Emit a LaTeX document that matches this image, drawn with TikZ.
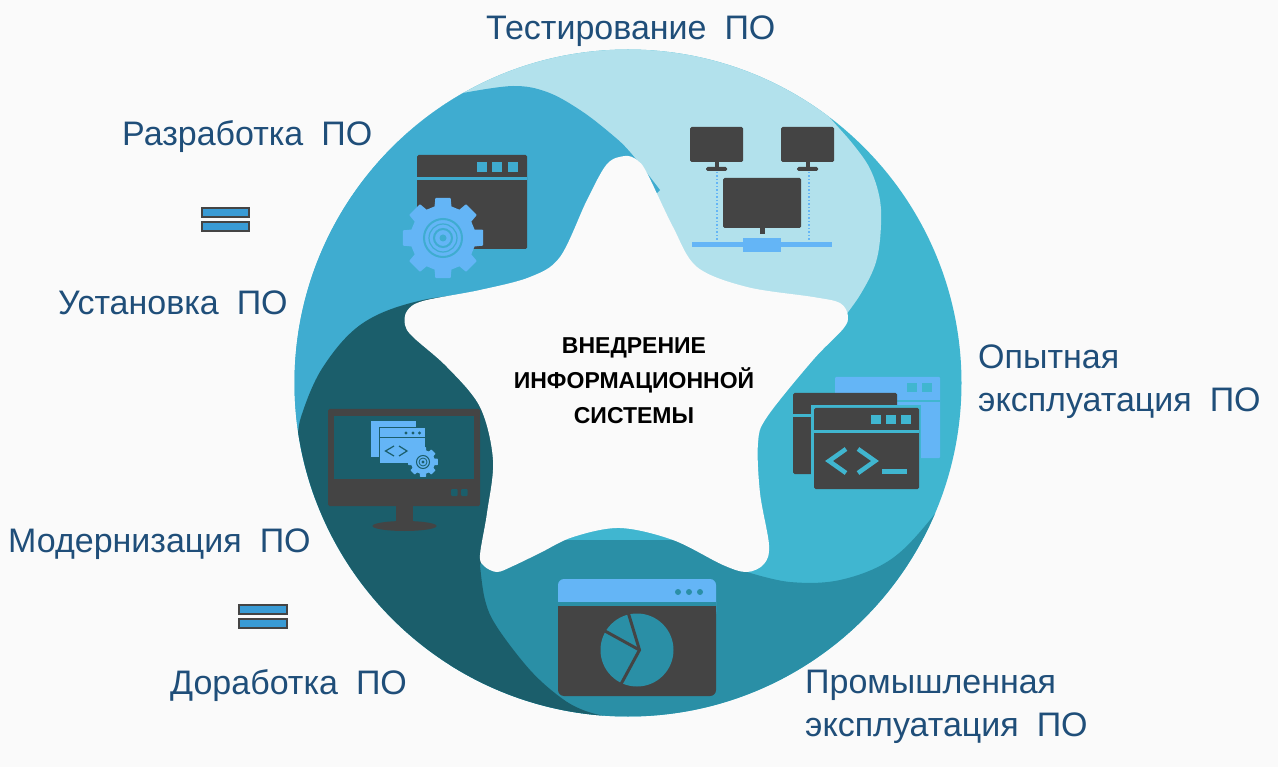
\documentclass[tikz,border=0pt]{standalone}
\usepackage{fontspec}
\setmainfont{Liberation Sans}
\definecolor{bgc}{HTML}{FAFAFA}
\definecolor{cLight}{HTML}{B2E1EC}
\definecolor{cBlue}{HTML}{3FACD0}
\definecolor{cCyan}{HTML}{40B6D0}
\definecolor{cTeal}{HTML}{2A8FA6}
\definecolor{cDark}{HTML}{1B5E6B}
\definecolor{cIcon}{HTML}{444444}
\definecolor{cSky}{HTML}{64B5F6}
\definecolor{cText}{HTML}{1F4E79}
\newcommand{\gearicon}[6]{% cx cy Rout Rin toothcolor linew
  \begin{scope}[shift={(#1,#2)}]
    \fill[#5,draw=#5,line width=#6,line join=round]
      (-11:#3)
      \foreach \ga in {0,45,...,315}{
        -- (\ga-10:#3) -- (\ga+10:#3) -- (\ga+14:#4) -- (\ga+31:#4)
      } -- cycle;
  \end{scope}}
\tikzset{
  lab/.style={anchor=base west,text=cText,font=\fontsize{34}{40}\selectfont,inner sep=0pt},
  mid/.style={anchor=base,text=black,font=\fontsize{23}{28}\selectfont\bfseries,inner sep=0pt},
  eqbar/.style={fill=cBlue!90!blue,draw=cIcon,line width=1.6pt},
  ic/.style={fill=cIcon,rounded corners=1.5pt},
  edge/.style={smooth,tension=.6}
}
\newcommand{\gp}{\hspace{0.25em}}
\begin{document}
\begin{tikzpicture}[x=1pt,y=-1pt]
\useasboundingbox (0,0) rectangle (1278,767);
\fill[bgc] (0,0) rectangle (1278,767);
% disc and petals
\begin{scope}
\clip (628,383) circle[radius=333.5];
\fill[cCyan] (250,20) rectangle (1000,750);
% light
\fill[cLight] (400,20) -- (860,20) -- (830,118)
  -- plot[edge] coordinates {(847,137) (868,165) (879,195) (881,225) (876,262) (860,295) (838,325)}
  -- (620,300) -- (400,200) -- cycle;
% blue
\fill[cBlue] (200,60) -- (420,60) -- (420,110)
  -- plot[edge] coordinates {(463,93) (513,86) (547,92) (580,110) (610,133) (630,152) (660,190)}
  -- (500,350) -- (500,500) -- (200,500) -- cycle;
% teal
\fill[cTeal] (720,540)
  -- plot[edge] coordinates {(747,572) (790,582) (840,580) (890,560) (930,520) (965,470)}
  -- (1000,470) -- (1000,760) -- (450,760) -- (450,540) -- cycle;
% dark
\fill[cDark] (200,760) -- (200,480) -- (285,480)
  -- plot[edge] coordinates {(298,443) (301,417) (323,367) (363,323) (423,300) (500,292)}
  -- (520,500) -- (490,540)
  -- plot[edge] coordinates {(480,565) (485,600) (497,627) (530,670) (560,697) (583,710) (610,717) (650,722)}
  -- (650,760) -- cycle;
\end{scope}
% star
\fill[bgc] plot[smooth cycle,tension=.55] coordinates {
  (625,156) (607,164) (587,200) (560,257) (530,277) (480,290) (423,301)
  (407,311) (405,325) (413,337) (447,367) (480,407) (493,460) (487,513) (480,555)
  (484,566) (497,572) (513,566) (540,553) (573,537) (620,528) (673,540) (723,565) (747,572)
  (764,564) (769,545) (760,493) (758,443) (767,417) (813,360) (843,329) (848,316) (840,303)
  (813,297) (747,287) (697,267) (673,227) (647,173) (637,160)};
% central text
\node[mid] (m1) at (634,354) {ВНЕДРЕНИЕ};
\node[mid] (m2) at (634,389) {ИНФОРМАЦИОННОЙ};
\node[mid] (m3) at (634,424) {СИСТЕМЫ};
% labels
\node[lab] (l1) at (486,40) {Тестирование\gp\ ПО};
\node[lab] (l2) at (122,146) {Разработка\gp\ ПО};
\node[lab] (l3) at (58,315) {Установка\gp\ ПО};
\node[lab] (l4) at (978,369) {Опытная};
\node[lab] (l5) at (978,412) {эксплуатация\gp\ ПО};
\node[lab] (l6) at (8,552) {Модернизация\gp\ ПО};
\node[lab] (l7) at (170,694) {Доработка\gp\ ПО};
\node[lab] (l8) at (805,693) {Промышленная};
\node[lab] (l9) at (805,736) {эксплуатация\gp\ ПО};
% equals
\draw[eqbar] (202,208) rectangle (249,217);
\draw[eqbar] (202,222) rectangle (249,231);
\draw[eqbar] (239,605) rectangle (287,614);
\draw[eqbar] (239,619) rectangle (287,628);
% icon: window + gear
\fill[ic] (417,155) rectangle (527,249);
\fill[cBlue] (417,177) rectangle (527,180);
\foreach \sx in {477,492,508} \fill[cBlue] (\sx,162) rectangle ++(10,10);
\gearicon{443}{238}{40}{32}{cSky}{1.5pt}
\draw[cBlue,line width=2pt] (443,238) circle[radius=19];
\draw[cBlue,line width=1.2pt] (443,238) circle[radius=14];
\draw[cBlue,line width=2pt] (443,238) circle[radius=9];
\fill[cBlue] (443,238) circle[radius=3.5];
% icon: network
\draw[cSky,line width=1.5pt,dotted] (717,172) -- (717,242);
\draw[cSky,line width=1.5pt,dotted] (809,172) -- (809,242);
\fill[cSky] (692,242) rectangle (832,247.5);
\fill[cSky] (743,238) rectangle (781,252);
\fill[ic] (690,127) rectangle (743,162);
\fill[ic] (781,127) rectangle (834,162);
\fill[cIcon] (715,162) rectangle (719,167);
\fill[cIcon] (806,162) rectangle (810,167);
\fill[ic] (706,167) rectangle (727,171);
\fill[ic] (797,167) rectangle (818,171);
\fill[ic] (723,178) rectangle (801,228);
\fill[cIcon] (760,228) rectangle (765,234);
% icon: code windows
\fill[cSky,rounded corners=1pt] (835,377) rectangle (940,458);
\fill[cCyan] (835,400) rectangle (940,402);
\foreach \sx in {907,922} \fill[cCyan] (\sx,383) rectangle ++(10,9);
\fill[ic] (793,393) rectangle (897,474);
\fill[cCyan] (793,414) rectangle (897,417);
\fill[cCyan] (811,405) rectangle (921,491);
\fill[ic] (814,408) rectangle (919,489);
\fill[cCyan] (814,430) rectangle (919,433);
\foreach \sx in {871,886,901} \fill[cCyan] (\sx,415) rectangle ++(9.5,9);
\draw[cCyan,line width=4.5pt,miter limit=4] (846,449) -- (829,461) -- (846,473);
\draw[cCyan,line width=4.5pt,miter limit=4] (858,449) -- (875,461) -- (858,473);
\fill[cCyan] (882,469) rectangle (907,474);
% icon: chart window
\fill[cSky,rounded corners=6pt] (558,579) rectangle (716,620);
\fill[cTeal] (558,602) rectangle (716,606);
\fill[cIcon,rounded corners=6pt] (558,606) -- (558,696) -- (716,696) -- (716,606) -- cycle;
\fill[cIcon] (558,606) rectangle (716,625);
\foreach \sx in {678,689,700} \fill[cTeal] (\sx,592) circle[radius=3];
\fill[cTeal] (637,650) circle[radius=36.5];
\draw[cIcon,line width=3pt,line join=miter] (628,612) -- (639.5,650) -- (620,686);
\draw[cIcon,line width=3pt] (605,631) -- (639.5,650);
% icon: monitor
\fill[cIcon] (396,506) rectangle (413,523);
\fill[cIcon] (404.5,526) ellipse[x radius=32,y radius=5];
\fill[ic] (328,409) rectangle (480,506);
\fill[cDark] (334,416) rectangle (474,479);
\fill[cDark,rounded corners=1pt] (451,489) rectangle (457.5,496);
\fill[cDark,rounded corners=1pt] (461,489) rectangle (467.5,496);
\fill[cSky] (371,421) rectangle (416,457);
\fill[cDark] (378.5,427.5) rectangle (425.5,464);
\fill[cSky] (379.5,428.5) rectangle (424.5,463);
\fill[cDark] (379.5,436.5) rectangle (424.5,438);
\foreach \sx in {406,413,419.5} \fill[cDark] (\sx,433) circle[radius=1.6];
\draw[cDark,line width=1.2pt] (394,446) -- (385.5,451) -- (394,456);
\draw[cDark,line width=1.2pt] (399,446) -- (407,451) -- (399,456);
\gearicon{423}{462}{14.5}{11.5}{cSky}{1pt}
\draw[cDark,line width=1pt] (423,462) circle[radius=6.5];
\draw[cDark,line width=.8pt] (423,462) circle[radius=4];
\fill[cDark] (423,462) circle[radius=1.6];
\end{tikzpicture}
\end{document}
